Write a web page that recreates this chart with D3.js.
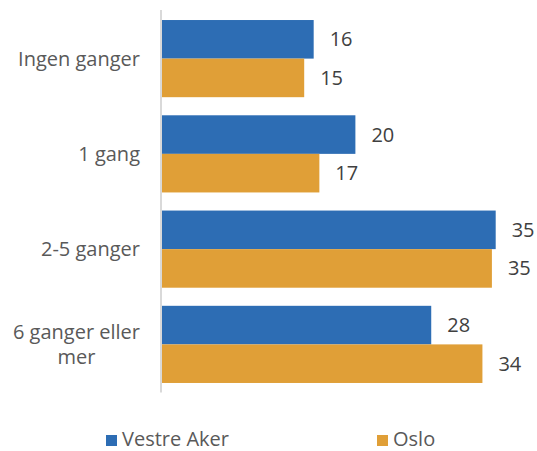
<!DOCTYPE html>
<html><head><meta charset="utf-8">
<script src="https://cdn.jsdelivr.net/npm/d3@7"></script>
<style>body{margin:0;background:#fff}svg{display:block}</style>
</head><body>
<script>
const categories = ["Ingen ganger", "1 gang", "2-5 ganger", "6 ganger eller mer"];
const categoryLines = [["Ingen ganger"], ["1 gang"], ["2-5 ganger"], ["6 ganger eller", "mer"]];
const seriesNames = ["Vestre Aker", "Oslo"];
const vestreAker = [16.0, 20.4, 35.2, 28.4];
const oslo = [15.0, 16.6, 34.8, 33.8];
const colors = ["#2d6db4", "#e09f37"];

const W = 537, H = 451;
const svg = d3.select("body").append("svg").attr("width", W).attr("height", H);
const font = "'Open Sans', Roboto, sans-serif";
const textColor = "#595959";
const fs = 20;

const x = d3.scaleLinear().domain([0, 38]).range([162, 162 + 38 * 9.48]);
const y = d3.scaleBand().domain(categories).range([10.5, 392.5]).paddingInner(0.19).paddingOuter(0.1);
const y2 = d3.scaleBand().domain(seriesNames).range([0, y.bandwidth()]);

const data = categories.map((c, i) => ({cat: c, vals: [vestreAker[i], oslo[i]]}));

const g = svg.selectAll("g.grp").data(data).enter().append("g")
  .attr("transform", d => `translate(0,${y(d.cat)})`);

g.selectAll("rect").data(d => d.vals.map((v, j) => ({v, j}))).enter().append("rect")
  .attr("x", x(0))
  .attr("y", d => y2(seriesNames[d.j]))
  .attr("width", d => x(d.v) - x(0))
  .attr("height", y2.bandwidth())
  .attr("fill", d => colors[d.j]);

g.selectAll("text.val").data(d => d.vals.map((v, j) => ({v, j}))).enter().append("text")
  .attr("class", "val")
  .attr("x", d => x(d.v) + 16)
  .attr("y", d => y2(seriesNames[d.j]) + y2.bandwidth() / 2)
  .attr("dy", "0.35em")
  .attr("font-family", font).attr("font-size", fs).attr("fill", "#404040")
  .text(d => d3.format(".0f")(d.v));

// axis line
svg.append("line").attr("x1", 161).attr("x2", 161).attr("y1", 10).attr("y2", 392.5)
  .attr("stroke", "#d9d9d9").attr("stroke-width", 2);

// category labels
const lh = 25;
categories.forEach((c, i) => {
  const lines = categoryLines[i];
  const cy = y(c) + y.bandwidth() / 2;
  const t = svg.append("text").attr("font-family", font).attr("font-size", fs).attr("fill", textColor);
  lines.forEach((ln, k) => {
    t.append("tspan").attr("y", cy + (k - (lines.length - 1) / 2) * lh).attr("dy", "0.35em").text(ln);
  });
  if (lines.length === 1) {
    t.attr("text-anchor", "end").selectAll("tspan").attr("x", 140);
  } else {
    let maxW = 0;
    t.selectAll("tspan").each(function(){ maxW = Math.max(maxW, this.getComputedTextLength()); });
    t.attr("text-anchor", "middle").selectAll("tspan").attr("x", 140 - maxW / 2);
  }
});

// legend
const legendX = [106, 377];
seriesNames.forEach((s, i) => {
  svg.append("rect").attr("x", legendX[i]).attr("y", 435).attr("width", 11).attr("height", 11).attr("fill", colors[i]);
  svg.append("text").attr("x", legendX[i] + 16).attr("y", 445.5)
    .attr("font-family", font).attr("font-size", fs).attr("fill", textColor).text(s);
});
</script>
</body></html>
